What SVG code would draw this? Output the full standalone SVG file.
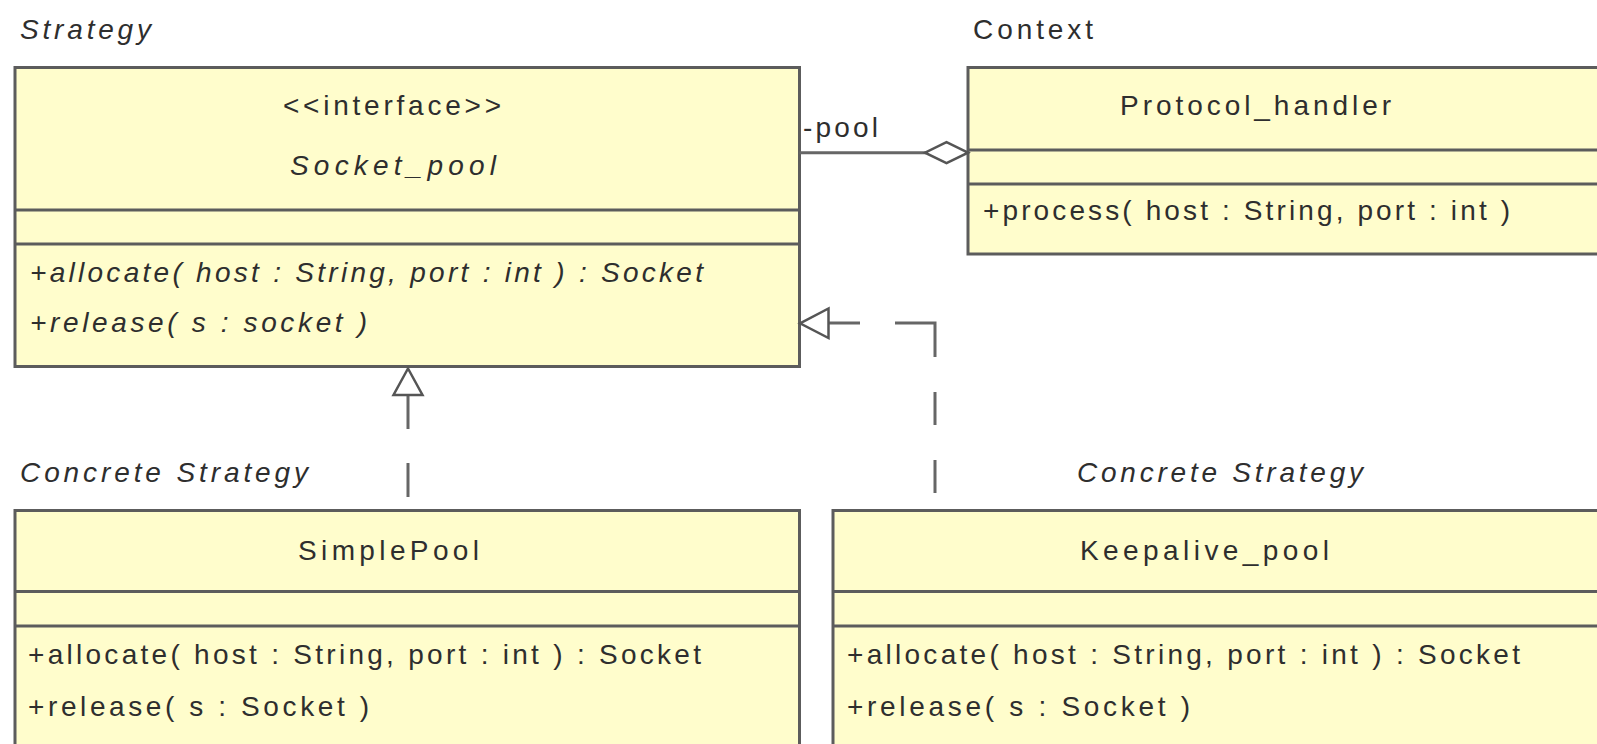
<svg xmlns="http://www.w3.org/2000/svg" width="1597" height="744" viewBox="0 0 1597 744">
<style>
.box{fill:#FFFDCC;stroke:#5c5c5c;stroke-width:3}
.div{stroke:#5c5c5c;stroke-width:3;fill:none}
.t{font-family:"Liberation Sans",Arial,sans-serif;font-size:28px;fill:#2e2e2e}
.i{font-style:italic}
.con{stroke:#666;stroke-width:3;fill:none}
.head{fill:#fff;stroke:#555;stroke-width:2.5}
</style>
<rect width="1597" height="744" fill="#fff"/>
<text class="t i" x="20" y="39" textLength="131" lengthAdjust="spacing">Strategy</text>
<text class="t" x="973" y="39" textLength="120" lengthAdjust="spacing">Context</text>
<text class="t i" x="20" y="482" textLength="288" lengthAdjust="spacing">Concrete Strategy</text>
<text class="t i" x="1077" y="482" textLength="286" lengthAdjust="spacing">Concrete Strategy</text>

<g id="socket_pool">
<rect class="box" x="15" y="67.5" width="784.5" height="299"/>
<line class="div" x1="15" y1="210" x2="799.5" y2="210"/>
<line class="div" x1="15" y1="244" x2="799.5" y2="244"/>
<text class="t" x="283" y="115" textLength="218" lengthAdjust="spacing">&lt;&lt;interface&gt;&gt;</text>
<text class="t i" x="290" y="175" textLength="206" lengthAdjust="spacing">Socket_pool</text>
<text class="t i" x="30" y="282" textLength="673" lengthAdjust="spacing">+allocate( host : String, port : int ) : Socket</text>
<text class="t i" x="30" y="332" textLength="337" lengthAdjust="spacing">+release( s : socket )</text>
</g>

<g id="protocol_handler">
<rect class="box" x="968" y="67.5" width="700" height="186.5"/>
<line class="div" x1="968" y1="150" x2="1610" y2="150"/>
<line class="div" x1="968" y1="184" x2="1610" y2="184"/>
<text class="t" x="1120" y="115" textLength="271" lengthAdjust="spacing">Protocol_handler</text>
<text class="t" x="983" y="220" textLength="527" lengthAdjust="spacing">+process( host : String, port : int )</text>
</g>

<g id="simple_pool">
<rect class="box" x="15" y="510.5" width="784.5" height="300"/>
<line class="div" x1="15" y1="591.5" x2="799.5" y2="591.5"/>
<line class="div" x1="15" y1="626" x2="799.5" y2="626"/>
<text class="t" x="298" y="560" textLength="181" lengthAdjust="spacing">SimplePool</text>
<text class="t" x="28" y="664" textLength="673" lengthAdjust="spacing">+allocate( host : String, port : int ) : Socket</text>
<text class="t" x="28" y="716" textLength="341" lengthAdjust="spacing">+release( s : Socket )</text>
</g>

<g id="keepalive_pool">
<rect class="box" x="833" y="510.5" width="800" height="300"/>
<line class="div" x1="833" y1="591.5" x2="1610" y2="591.5"/>
<line class="div" x1="833" y1="626" x2="1610" y2="626"/>
<text class="t" x="1080" y="560" textLength="249" lengthAdjust="spacing">Keepalive_pool</text>
<text class="t" x="847" y="664" textLength="673" lengthAdjust="spacing">+allocate( host : String, port : int ) : Socket</text>
<text class="t" x="847" y="716" textLength="343" lengthAdjust="spacing">+release( s : Socket )</text>
</g>

<g id="connectors">
<line class="con" x1="799.5" y1="152.7" x2="926" y2="152.7"/>
<polygon class="head" points="968,152.7 946.5,142.2 925,152.7 946.5,163.2"/>
<text class="t" x="803" y="137" textLength="75" lengthAdjust="spacing">-pool</text>
<path class="con" d="M408,395 V429 M408,463 V497"/>
<polygon class="head" points="408,368.5 393.5,395 422.5,395"/>
<path class="con" d="M935,493 V460 M935,425 V392 M935,357 V323 H895 M860,323 H828"/>
<polygon class="head" points="800,323.3 828.5,308.5 828.5,338"/>
</g>
</svg>
